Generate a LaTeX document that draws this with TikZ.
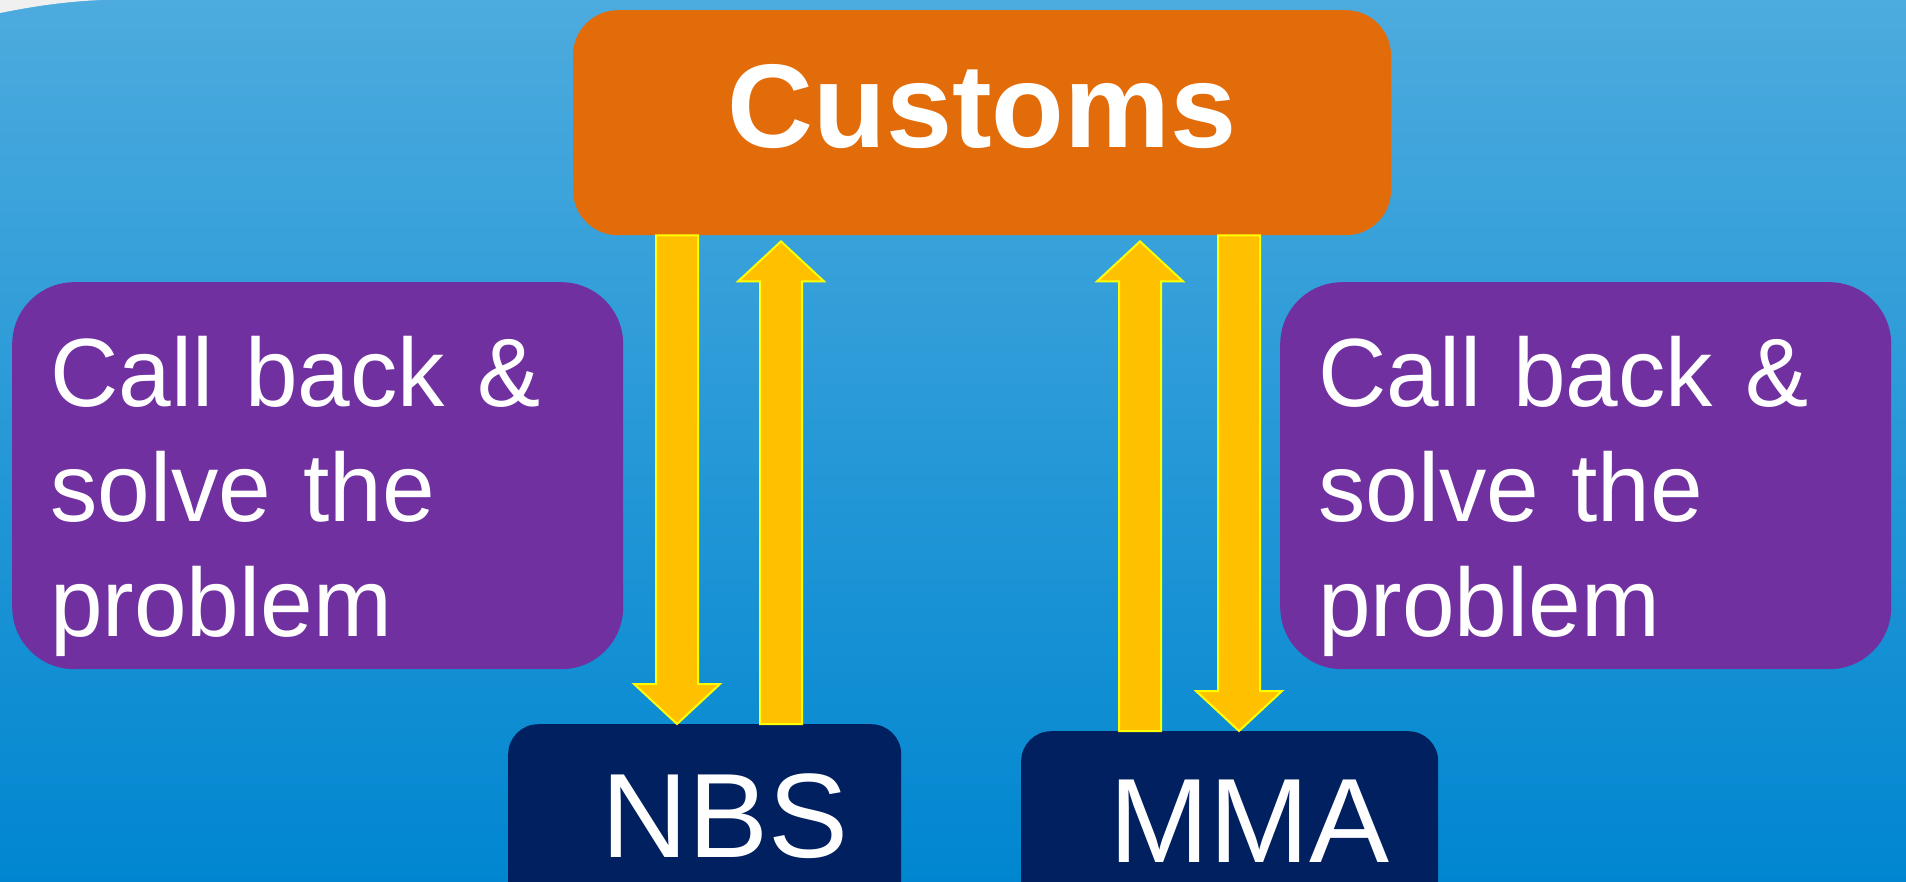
\documentclass[tikz,border=0pt]{standalone}
\usepackage{fontspec}
\setmainfont{Liberation Sans}
\newfontfamily\helpfont[FakeStretch=0.975]{Liberation Sans}
\usetikzlibrary{calc}

\definecolor{skytop}{RGB}{77,171,222}
\definecolor{skybot}{RGB}{0,134,208}
\definecolor{custorange}{RGB}{227,108,10}
\definecolor{helppurple}{RGB}{112,48,160}
\definecolor{agencynavy}{RGB}{0,32,96}
\definecolor{arrowamber}{RGB}{255,192,0}
\definecolor{arrowedge}{RGB}{255,255,0}

\tikzset{
  custbox/.style={fill=custorange,rounded corners=45pt,text=white,
    minimum width=818pt,inner sep=0pt,
    font=\fontsize{119}{142}\selectfont\bfseries,
    text height=137pt,text depth=88pt},
  helpbox/.style={fill=helppurple,rounded corners=62pt,text=white,
    align=left,inner xsep=38pt,inner ysep=0pt,text width=535pt,
    font=\helpfont\fontsize{97}{115}\selectfont,
    text height=124pt,text depth=263pt},
  agencybox/.style={fill=agencynavy,rounded corners=30pt,text=white,
    align=right,inner ysep=0pt,font=\fontsize{120}{144}\selectfont,
    text depth=90pt},
  blockarrow/.style={fill=arrowamber,draw=arrowedge,line width=2pt},
}

% down arrow: tail at #1, tip at #2
\newcommand{\arrowdown}[2]{%
  \path (#1) coordinate (ta) (#2) coordinate (tb);
  \draw[blockarrow] ($(ta)+(-21,0)$) -- ($(ta)+(21,0)$)
    -- ($(tb)+(21,-40)$) -- ($(tb)+(43,-40)$) -- (tb)
    -- ($(tb)+(-43,-40)$) -- ($(tb)+(-21,-40)$) -- cycle ;}
% up arrow: tail at #1, tip just under #2
\newcommand{\arrowup}[2]{%
  \path (#1) coordinate (ta) ($(#2)+(0,6)$) coordinate (tb);
  \draw[blockarrow] ($(ta)+(-21,0)$) -- ($(ta)+(21,0)$)
    -- ($(tb)+(21,40)$) -- ($(tb)+(43,40)$) -- (tb)
    -- ($(tb)+(-43,40)$) -- ($(tb)+(-21,40)$) -- cycle ;}

\begin{document}
\begin{tikzpicture}[x=1pt,y=-1pt]
        \useasboundingbox (0,0) rectangle (1906,882) ;
        \clip (0,0) rectangle (1906,882) ;
        \shade[top color=skytop,bottom color=skybot] (0,0) rectangle (1906,882) ;
        \fill[white!88!gray] (0,0) -- (0,13) .. controls (30,7) and (60,2) .. (100,0) -- cycle ;

        \node[custbox,anchor=north] (customs) at (982,10) {Customs} ;
        \node[helpbox,anchor=north west] (helpnbs) at (12,282)
        {Call back \&\\solve the\\problem} ;
        \node[helpbox,anchor=north west] (helpmma) at (1280,282)
        {Call back \&\\solve the\\problem} ;
        \node[agencybox,anchor=north west,inner xsep=53pt,text width=287pt,
        text height=133pt] (nbs) at (508,724) {NBS} ;
        \node[agencybox,anchor=north west,inner xsep=49pt,text width=319pt,
        text height=131pt] (mma) at (1021,731) {MMA} ;

        \coordinate (lane1) at (677,0) ;
        \coordinate (lane2) at (781,0) ;
        \coordinate (lane3) at (1140,0) ;
        \coordinate (lane4) at (1239,0) ;
        \arrowdown{lane1 |- customs.south}{lane1 |- nbs.north}
        \arrowup{lane2 |- nbs.north}{lane2 |- customs.south}
        \arrowup{lane3 |- mma.north}{lane3 |- customs.south}
        \arrowdown{lane4 |- customs.south}{lane4 |- mma.north}
      \end{tikzpicture}
\end{document}
